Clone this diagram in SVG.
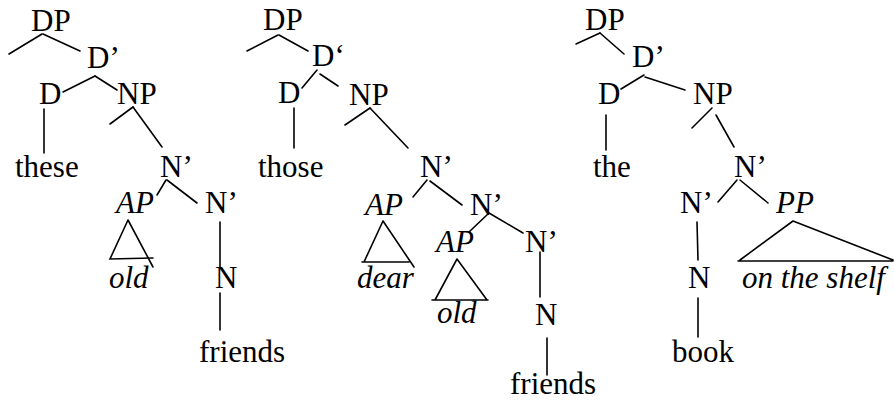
<svg xmlns="http://www.w3.org/2000/svg" width="894" height="401" viewBox="0 0 894 401">
<style>
text{font-family:"Liberation Serif","Times New Roman",serif;font-size:31px;fill:#000}
.i{font-style:italic}
line,path{stroke:#000;stroke-width:1.6;fill:none;stroke-linecap:round}
</style>
<rect width="894" height="401" fill="#fff"/>
<g id="connectors">
<!-- tree 1 -->
<line x1="42" y1="34" x2="9" y2="54"/>
<line x1="43" y1="34" x2="80" y2="51"/>
<line x1="95" y1="76" x2="63" y2="92"/>
<line x1="95" y1="76" x2="117" y2="90"/>
<line x1="44" y1="109" x2="44" y2="153"/>
<line x1="133" y1="107" x2="110" y2="124"/>
<line x1="133" y1="107" x2="162" y2="147"/>
<line x1="166" y1="180" x2="157" y2="195"/>
<line x1="167" y1="180" x2="197" y2="203"/>
<path d="M128,220 L110,259 L153,258 M128,220 L153,267"/>
<line x1="220" y1="222" x2="220" y2="268"/>
<line x1="220" y1="293" x2="220" y2="330"/>
<!-- tree 2 -->
<line x1="278" y1="35" x2="247" y2="51"/>
<line x1="279" y1="35" x2="308" y2="51"/>
<line x1="317" y1="70" x2="302" y2="88"/>
<line x1="320" y1="74" x2="338" y2="86"/>
<line x1="294" y1="108" x2="294" y2="148"/>
<line x1="370" y1="108" x2="345" y2="125"/>
<line x1="370" y1="108" x2="408" y2="148"/>
<line x1="427" y1="180" x2="413" y2="197"/>
<line x1="430" y1="181" x2="462" y2="205"/>
<line x1="489" y1="213" x2="469" y2="232"/>
<line x1="489" y1="213" x2="523" y2="233"/>
<path d="M383,221 L364,262 M362,262 L409,262 M383,221 L414,267"/>
<path d="M457,259 L435,300 M432,300 L488,300 M457,259 L487,300"/>
<line x1="540" y1="252" x2="540" y2="297"/>
<line x1="547" y1="338" x2="547" y2="375"/>
<!-- tree 3 -->
<line x1="600" y1="33" x2="576" y2="44"/>
<line x1="600" y1="33" x2="624" y2="54"/>
<line x1="644" y1="75" x2="621" y2="89"/>
<line x1="645" y1="77" x2="685" y2="90"/>
<line x1="606" y1="115" x2="606" y2="150"/>
<line x1="712" y1="108" x2="692" y2="128"/>
<line x1="716" y1="115" x2="734" y2="147"/>
<line x1="737" y1="180" x2="718" y2="202"/>
<line x1="740" y1="180" x2="768" y2="203"/>
<line x1="697" y1="222" x2="698" y2="260"/>
<line x1="698" y1="298" x2="698" y2="337"/>
<path d="M793,221 L740,260 M738,261 L893,261 M793,221 L893,260"/>
</g>
<g id="t1-DP"><text x="31" y="31">DP</text></g>
<g id="t1-Dbar"><text x="87" y="68">D’</text></g>
<g id="t1-D"><text x="39" y="104">D</text></g>
<g id="t1-NP"><text x="117" y="104">NP</text></g>
<g id="t1-these"><text x="15" y="177">these</text></g>
<g id="t1-Nbar1"><text x="160" y="177">N’</text></g>
<g id="t1-AP"><text class="i" x="116" y="213">AP</text></g>
<g id="t1-Nbar2"><text x="205" y="213">N’</text></g>
<g id="t1-old"><text class="i" x="109" y="288">old</text></g>
<g id="t1-N"><text x="215" y="288">N</text></g>
<g id="t1-friends"><text x="199" y="362">friends</text></g>

<g id="t2-DP"><text x="263" y="30">DP</text></g>
<g id="t2-Dbar"><text x="312" y="66">D‘</text></g>
<g id="t2-D"><text x="278" y="103">D</text></g>
<g id="t2-NP"><text x="349" y="105">NP</text></g>
<g id="t2-those"><text x="258" y="177">those</text></g>
<g id="t2-Nbar1"><text x="420" y="177">N’</text></g>
<g id="t2-AP1"><text class="i" x="365" y="215">AP</text></g>
<g id="t2-Nbar2"><text x="470" y="215">N’</text></g>
<g id="t2-AP2"><text class="i" x="436" y="252">AP</text></g>
<g id="t2-Nbar3"><text x="525" y="252">N’</text></g>
<g id="t2-dear"><text class="i" x="357" y="288">dear</text></g>
<g id="t2-old"><text class="i" x="437" y="323">old</text></g>
<g id="t2-N"><text x="535" y="325">N</text></g>
<g id="t2-friends"><text x="510" y="394">friends</text></g>

<g id="t3-DP"><text x="585" y="30">DP</text></g>
<g id="t3-Dbar"><text x="632" y="67">D’</text></g>
<g id="t3-D"><text x="598" y="104">D</text></g>
<g id="t3-NP"><text x="693" y="104">NP</text></g>
<g id="t3-the"><text x="593" y="177">the</text></g>
<g id="t3-Nbar1"><text x="734" y="177">N’</text></g>
<g id="t3-Nbar2"><text x="680" y="213">N’</text></g>
<g id="t3-PP"><text class="i" x="776" y="213">PP</text></g>
<g id="t3-N"><text x="688" y="288">N</text></g>
<g id="t3-shelf"><text class="i" x="742" y="288">on the shelf</text></g>
<g id="t3-book"><text x="672" y="362">book</text></g>
</svg>
